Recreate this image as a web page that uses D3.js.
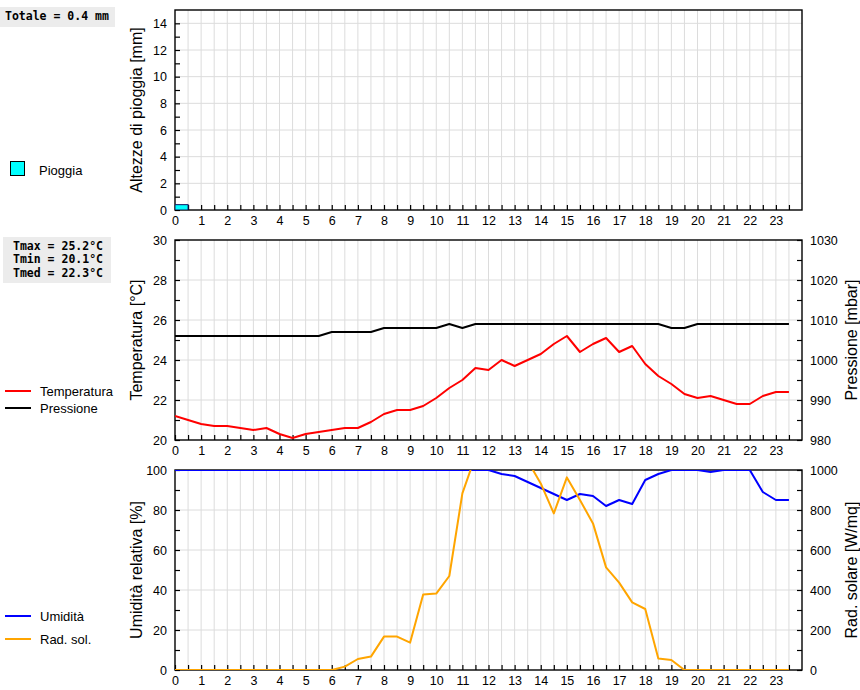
<!DOCTYPE html>
<html>
<head>
<meta charset="utf-8">
<script src="https://cdn.jsdelivr.net/npm/d3@7"></script>
<style>
  body { margin: 0; background: #fff; }
  svg { display: block; font-family: "Liberation Sans", Arial, sans-serif; }
  .stat { font-family: "DejaVu Sans Mono", monospace; font-weight: bold; font-size: 11.5px; }
</style>
</head>
<body>
<svg id="chart" width="860" height="690"></svg>
<script>
// ore del giorno, ogni mezz'ora
const hours = d3.range(0, 24, 0.5)

// pioggia [mm] per mezz'ora
const rain = [0.4, 0, 0, 0, 0, 0, 0, 0, 0, 0, 0, 0,
    0, 0, 0, 0, 0, 0, 0, 0, 0, 0, 0, 0,
    0, 0, 0, 0, 0, 0, 0, 0, 0, 0, 0, 0,
    0, 0, 0, 0, 0, 0, 0, 0, 0, 0, 0, 0]

// temperatura [°C]
const temperatura = [21.2, 21.0, 20.8, 20.7, 20.7, 20.6, 20.5, 20.6, 20.3, 20.1, 20.3, 20.4,
    20.5, 20.6, 20.6, 20.9, 21.3, 21.5, 21.5, 21.7, 22.1, 22.6, 23.0, 23.6,
    23.5, 24.0, 23.7, 24.0, 24.3, 24.8, 25.2, 24.4, 24.8, 25.1, 24.4, 24.7,
    23.8, 23.2, 22.8, 22.3, 22.1, 22.2, 22.0, 21.8, 21.8, 22.2, 22.4, 22.4]

// pressione [mbar]
const pressione = [1006, 1006, 1006, 1006, 1006, 1006, 1006, 1006, 1006, 1006, 1006, 1006,
    1007, 1007, 1007, 1007, 1008, 1008, 1008, 1008, 1008, 1009, 1008, 1009,
    1009, 1009, 1009, 1009, 1009, 1009, 1009, 1009, 1009, 1009, 1009, 1009,
    1009, 1009, 1008, 1008, 1009, 1009, 1009, 1009, 1009, 1009, 1009, 1009]

// umidita relativa [%]
const umidita = [100, 100, 100, 100, 100, 100, 100, 100, 100, 100, 100, 100,
    100, 100, 100, 100, 100, 100, 100, 100, 100, 100, 100, 100,
    100, 98, 97, 94, 91, 88, 85, 88, 87, 82, 85, 83,
    95, 98, 100, 100, 100, 99, 100, 100, 100, 89, 85, 85]

// radiazione solare [W/mq]
const radiazione = [0, 0, 0, 0, 0, 0, 0, 0, 0, 0, 0, 0,
    0, 17, 55, 67, 167, 167, 137, 377, 382, 470, 883, 1070,
    1090, 1080, 1070, 1045, 933, 783, 963, 850, 733, 513, 437, 338,
    305, 57, 50, 0, 0, 0, 0, 0, 0, 0, 0, 0]

const statTotale = ["Totale = 0.4 mm"]
const statTemp = ["Tmax = 25.2°C", "Tmin = 20.1°C", "Tmed = 22.3°C"]

const svg = d3.select("#chart")
const left = 175, right = 802

const xScale = d3.scaleLinear().domain([0, 24]).range([left, right])

// disegna cornice, griglia e assi di un pannello
function drawPanel(opt) {
    let g = svg.append("g")
    let y = d3.scaleLinear().domain(opt.yDomain).range([opt.bottom, opt.top])

    // griglia
    g.append("g").selectAll("line.v")
        .data(hours.filter(d => d > 0))
        .enter().append("line")
        .attr("x1", d => xScale(d)).attr("x2", d => xScale(d))
        .attr("y1", opt.top).attr("y2", opt.bottom)
        .attr("stroke", "#dcdcdc").attr("stroke-width", 1)
    g.append("g").selectAll("line.h")
        .data(opt.grid)
        .enter().append("line")
        .attr("x1", left).attr("x2", right)
        .attr("y1", d => y(d)).attr("y2", d => y(d))
        .attr("stroke", "#dcdcdc").attr("stroke-width", 1)

    // asse x
    let xAxis = g.append("g")
        .attr("transform", "translate(0," + opt.bottom + ")")
        .call(d3.axisBottom(xScale).tickValues(hours).tickSize(-5).tickPadding(6)
            .tickFormat(d => Number.isInteger(d) ? d : ""))
    // asse y sinistro
    let yAxis = g.append("g")
        .attr("transform", "translate(" + left + ",0)")
        .call(d3.axisLeft(y).tickValues(opt.yTicks).tickSize(-5).tickPadding(8)
            .tickFormat(d => d % opt.yLabelStep === 0 ? d : ""))
    let axes = [xAxis, yAxis]

    let y2 = null
    if (opt.y2Domain) {
        y2 = d3.scaleLinear().domain(opt.y2Domain).range([opt.bottom, opt.top])
        axes.push(g.append("g")
            .attr("transform", "translate(" + right + ",0)")
            .call(d3.axisRight(y2).tickValues(opt.y2Ticks).tickSize(-5).tickPadding(8)
                .tickFormat(d => d % opt.y2LabelStep === 0 ? d : "")))
        svg.append("text")
            .attr("transform", "translate(857," + (opt.top + opt.bottom) / 2 + ") rotate(-90)")
            .attr("text-anchor", "middle")
            .style("font-size", "16px")
            .text(opt.y2Title)
    }
    axes.forEach(a => {
        a.select(".domain").remove()
        a.selectAll("line").attr("stroke", "#000").attr("stroke-width", 1.2)
        a.selectAll("text").style("font-size", "12.5px").style("font-family", "Liberation Sans, Arial, sans-serif").attr("fill", "#000")
    })

    // cornice
    g.append("rect")
        .attr("x", left).attr("y", opt.top)
        .attr("width", right - left).attr("height", opt.bottom - opt.top)
        .attr("fill", "none").attr("stroke", "#000").attr("stroke-width", 1.4)

    svg.append("text")
        .attr("transform", "translate(142," + (opt.top + opt.bottom) / 2 + ") rotate(-90)")
        .attr("text-anchor", "middle")
        .style("font-size", "16px")
        .text(opt.yTitle)

    let clipId = "clip" + opt.id
    svg.append("clipPath").attr("id", clipId)
        .append("rect")
        .attr("x", left).attr("y", opt.top)
        .attr("width", right - left).attr("height", opt.bottom - opt.top)
    let plot = svg.append("g").attr("clip-path", "url(#" + clipId + ")")

    return { y: y, y2: y2, plot: plot }
}

function drawSeries(plot, scale, values, color) {
    let lineGenerator = d3.line()
        .x((d, i) => xScale(hours[i]))
        .y(d => scale(d))
    plot.append("path")
        .attr("d", lineGenerator(values))
        .attr("fill", "none")
        .attr("stroke", color)
        .attr("stroke-width", 2)
        .attr("stroke-linejoin", "round")
}

function legendLine(y, color, label) {
    svg.append("line")
        .attr("x1", 5).attr("x2", 31).attr("y1", y).attr("y2", y)
        .attr("stroke", color).attr("stroke-width", 2)
    svg.append("text").attr("x", 40).attr("y", y + 5)
        .style("font-size", "13px").text(label)
}

function statBox(x, y, w, h, lines, pad) {
    svg.append("rect").attr("x", x).attr("y", y).attr("width", w).attr("height", h)
        .attr("fill", "#ececec")
    lines.forEach((t, i) => {
        svg.append("text").attr("class", "stat")
            .attr("x", x + pad).attr("y", y + 13 + i * 13.3)
            .text(t)
    })
}

// pannello 1: pioggia
let p1 = drawPanel({
    id: 1, top: 10, bottom: 210, yDomain: [0, 15],
    yTicks: d3.range(0, 15, 1), yLabelStep: 2, grid: d3.range(2, 15, 2),
    yTitle: "Altezze di pioggia [mm]"
})
p1.plot.selectAll("rect.bar")
    .data(rain)
    .enter().append("rect")
    .attr("x", (d, i) => xScale(hours[i]))
    .attr("y", d => p1.y(d))
    .attr("width", xScale(0.5) - xScale(0))
    .attr("height", d => p1.y(0) - p1.y(d))
    .attr("fill", "#00ffff")
    .attr("stroke", d => d > 0 ? "#101060" : "none")
    .attr("stroke-width", 1)

// pannello 2: temperatura e pressione
let p2 = drawPanel({
    id: 2, top: 240, bottom: 440, yDomain: [20, 30],
    yTicks: d3.range(20, 31, 1), yLabelStep: 2, grid: d3.range(22, 30, 2),
    yTitle: "Temperatura [°C]",
    y2Domain: [980, 1030], y2Ticks: d3.range(980, 1031, 5), y2LabelStep: 10,
    y2Title: "Pressione [mbar]"
})
drawSeries(p2.plot, p2.y2, pressione, "#000")
drawSeries(p2.plot, p2.y, temperatura, "#ff0000")

// pannello 3: umidita e radiazione
let p3 = drawPanel({
    id: 3, top: 470, bottom: 670, yDomain: [0, 100],
    yTicks: d3.range(0, 101, 10), yLabelStep: 20, grid: d3.range(20, 100, 20),
    yTitle: "Umidità relativa [%]",
    y2Domain: [0, 1000], y2Ticks: d3.range(0, 1001, 100), y2LabelStep: 200,
    y2Title: "Rad. solare [W/mq]"
})
drawSeries(p3.plot, p3.y, umidita, "#0000ff")
drawSeries(p3.plot, p3.y2, radiazione, "#ffa500")

// legende
svg.append("rect").attr("x", 10.5).attr("y", 161.5).attr("width", 14).attr("height", 14)
    .attr("fill", "#00ffff").attr("stroke", "#000")
svg.append("text").attr("x", 39).attr("y", 175).style("font-size", "13px").text("Pioggia")
legendLine(391, "#ff0000", "Temperatura")
legendLine(408, "#000", "Pressione")
legendLine(616, "#0000ff", "Umidità")
legendLine(639, "#ffa500", "Rad. sol.")

statBox(0, 7, 115, 20, statTotale, 5)
statBox(3, 237, 108, 46, statTemp, 10)
</script>
</body>
</html>
